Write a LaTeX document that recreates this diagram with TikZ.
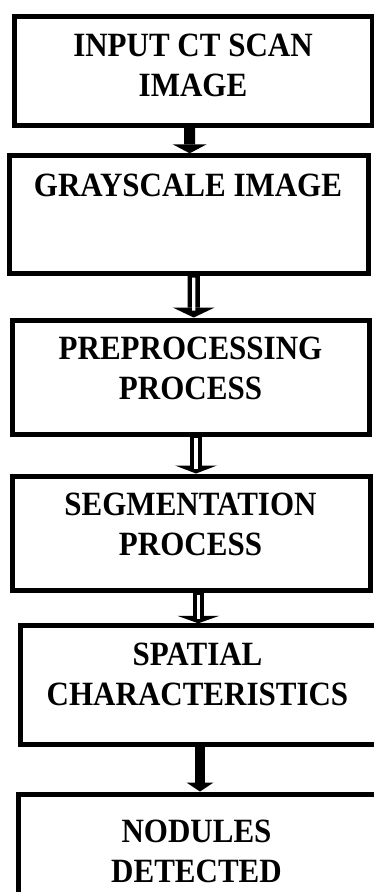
\documentclass[tikz,border=0pt]{standalone}
\usepackage{fontspec}
\setmainfont{Liberation Serif}[FakeStretch=0.912]
\usetikzlibrary{arrows.meta}

\begin{document}
\begin{tikzpicture}[x=1pt, y=-1pt,
  box/.style={draw=black, fill=white, line width=5pt, inner sep=0pt, outer sep=0pt},
  lbl/.style={align=center, inner sep=0pt, outer sep=0pt,
              font=\fontsize{34}{40}\selectfont\bfseries},
  solidarr/.style={draw=black, line width=#1, shorten >=2.5pt},
  tipA/.style={-{Triangle[width=#1 0 0, length=9pt 0 0, line width=0pt 0 0]}},
  tipB/.style={-{Triangle[width=42pt 0 0, length=#1 0 0, line width=0pt 0 0]}},
  core/.style={draw=white, line width=3.4pt}
]
\useasboundingbox (0,0) rectangle (374,892);

% process boxes
\node[box, minimum width=358.3pt, minimum height=109.1pt] (b1) at (193.35,71.25) {};
\node[box, minimum width=358.2pt, minimum height=117.7pt] (b2) at (188.9,214.65) {};
\node[box, minimum width=357.7pt, minimum height=114pt]   (b3) at (190.85,377) {};
\node[box, minimum width=358.5pt, minimum height=114.5pt] (b4) at (191.25,533.25) {};
\begin{scope}
  \clip (0,0) rectangle (374,892);
  \node[box, minimum width=365pt,   minimum height=118.2pt] (b5) at (202.5,684.9) {};
  \node[box, minimum width=366.7pt, minimum height=118pt]   (b6) at (201.65,853) {};
\end{scope}

% labels
\node[lbl] (t1) at (193,65.75)  {INPUT CT SCAN\\IMAGE};
\node[lbl] (t2) at (188,185.75) {GRAYSCALE IMAGE};
\node[lbl] (t3) at (190.5,368.75) {PREPROCESSING\\PROCESS};
\node[lbl] (t4) at (190.5,524.75) {SEGMENTATION\\PROCESS};
\node[lbl] (t5) at (197.5,674.75) {SPATIAL\\CHARACTERISTICS};
\node[lbl] (t6) at (196.5,851.75) {NODULES\\DETECTED};

% solid block arrows
\draw[solidarr=11pt, tipA=34pt] ([xshift=-3.65pt]b1.south) -- ([xshift=0.8pt]b2.north);
\draw[solidarr=10pt, tipA=27pt] ([xshift=-2.5pt]b5.south) -- ([xshift=-1.65pt]b6.north);

% double-line arrows: black shaft with a thin white core
\draw[solidarr=12.3pt, tipB=10pt] ([xshift=4.8pt]b2.south) -- ([xshift=2.85pt]b3.north);
\draw[core, shorten <=4pt, shorten >=9.5pt] ([xshift=4.8pt]b2.south) -- ([xshift=2.85pt]b3.north);

\draw[solidarr=12.3pt, tipB=8pt] ([xshift=5.15pt]b3.south) -- ([xshift=4.75pt]b4.north);
\draw[core, shorten <=4pt, shorten >=7.5pt] ([xshift=5.15pt]b3.south) -- ([xshift=4.75pt]b4.north);

\draw[solidarr=11.5pt, tipB=7.5pt] ([xshift=7.05pt]b4.south) -- ([xshift=-4.2pt]b5.north);
\draw[core, line width=3pt, shorten <=4pt, shorten >=7pt] ([xshift=7.05pt]b4.south) -- ([xshift=-4.2pt]b5.north);
\end{tikzpicture}
\end{document}
